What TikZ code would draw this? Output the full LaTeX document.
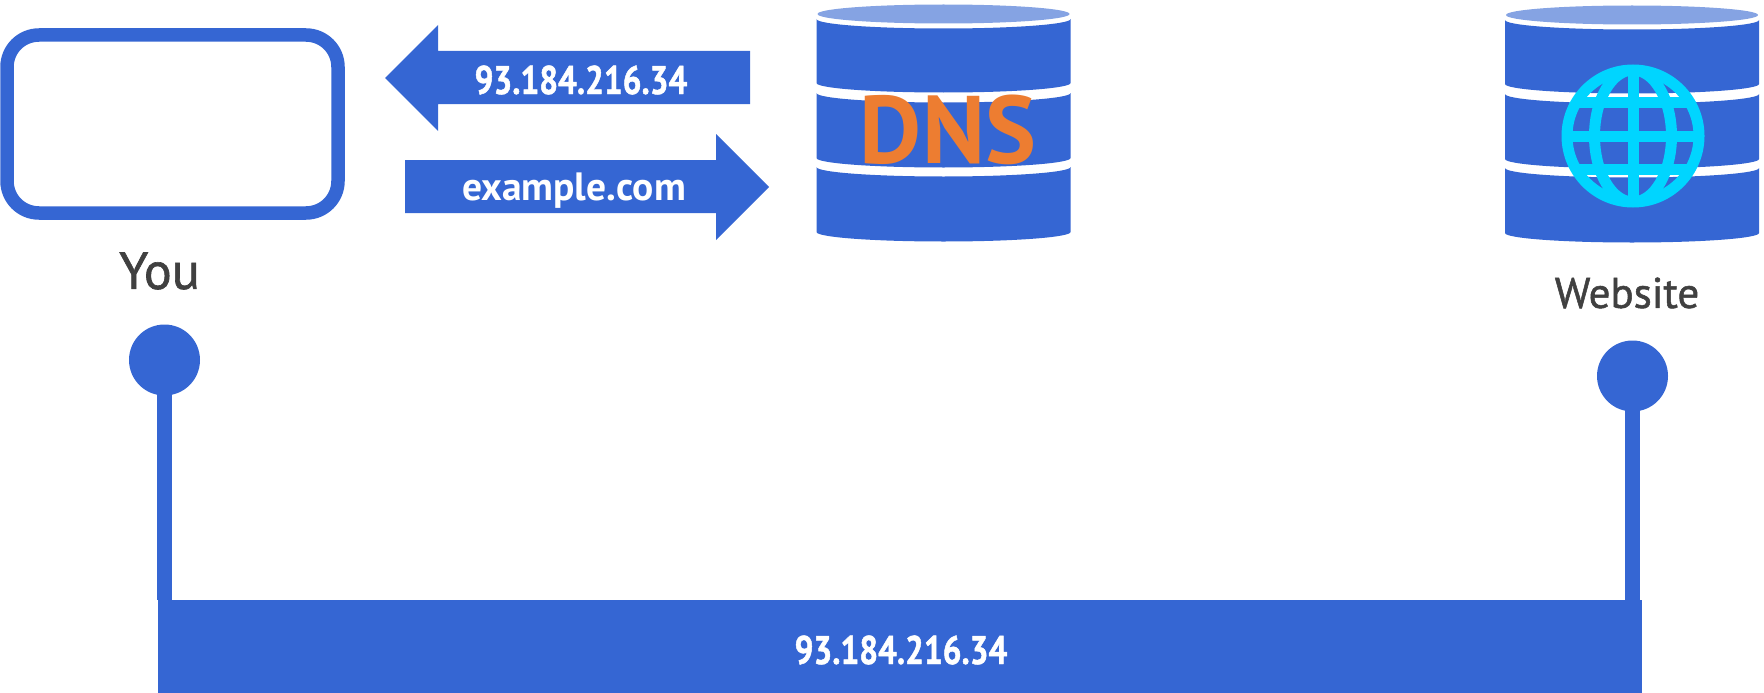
\documentclass[tikz,border=0pt]{standalone}
\usepackage{fontspec}
\setmainfont{PT Sans}
\newfontfamily\ipfont[FakeStretch=.83,FakeBold=1.2]{PT Sans}
\usetikzlibrary{positioning}
\definecolor{dbblue}{HTML}{3566D3}
\definecolor{dblight}{HTML}{85A3E3}
\definecolor{dnsorange}{HTML}{ED7D31}
\definecolor{globecyan}{HTML}{00D5FF}
\definecolor{labelgrey}{HTML}{404040}
\newcommand{\DBSTACK}[2]{%
  \begin{scope}[shift={(#1,#2)}]
    \fill[dblight] (127,14) ellipse[x radius=126,y radius=9.5];
    \foreach \ttop/\tbot in {19/83,93/158,167/232}
      \fill[dbblue] (0,\ttop) arc[start angle=180,end angle=0,x radius=127,y radius=9.5]
        -- (254,\tbot) arc[start angle=0,end angle=180,x radius=127,y radius=9.5] -- cycle;
  \end{scope}}

\begin{document}
\begin{tikzpicture}[x=1pt,y=-1pt,
  screen/.style={draw=dbblue,line width=13.5pt,rounded corners=32pt,inner sep=0pt,
                 minimum width=331pt,minimum height=178pt},
  flow/.style={fill=dbblue},
  addr/.style={text=white,font=\fontsize{40}{40}\selectfont\ipfont\bfseries,inner sep=0pt},
  caption/.style={text=labelgrey,inner sep=0pt},
  pin/.style={circle,fill=dbblue,inner sep=0pt,minimum size=71pt},
  stem/.style={draw=dbblue,line width=15pt,xshift=2pt}]
  \useasboundingbox (0,0) rectangle (1764,693);
  \node[screen] (screen) at (172.5,124) {};
  \node[caption,font=\fontsize{52}{52}\selectfont\addfontfeature{FakeBold=1.2}] (you) at (159.5,271) {You};

  \fill[flow] (385,78) -- (438,25) -- (438,51) -- (750,51) -- (750,104) -- (438,104) -- (438,131) -- cycle;
  \node[addr] (reply) at (581,80) {93.184.216.34};
  \fill[flow] (769,187) -- (716,134) -- (716,160) -- (405,160) -- (405,213) -- (716,213) -- (716,240) -- cycle;
  \node[text=white,inner sep=0pt,font=\fontsize{39.5}{40}\selectfont\bfseries] (query) at (574,191) {example.com};

  \DBSTACK{816.5}{0}
  \DBSTACK{1505}{1}
  \node[text=dnsorange,inner sep=0pt,font=\fontsize{96}{96}\selectfont\bfseries] (dns) at (948,130) {DNS};

  \node[circle,draw=globecyan,line width=11pt,inner sep=0pt,minimum size=132pt] (globe) at (1633,136) {};
  \begin{scope}[shift={(globe.center)}]
    \clip (0,0) circle[radius=68];
    \draw[globecyan,line width=11pt] (0,0) ellipse[x radius=38.5,y radius=66];
    \draw[globecyan,line width=11pt] (0,-70) -- (0,70);
    \foreach \yy in {-33.5,0,33.5}
      \draw[globecyan,line width=11pt] (-70,\yy) -- (70,\yy);
  \end{scope}
  \node[caption,font=\fontsize{43}{43}\selectfont\addfontfeature{FakeBold=1.2}] (website) at (1627,293) {Website};

  \node[pin] (youpin) at (164.5,360) {};
  \node[pin] (sitepin) at (1632.5,376) {};
  \node[fill=dbblue,inner sep=0pt,minimum width=1484pt,minimum height=93pt] (route) at (900,646.5) {};
  \node[addr] (routeip) at (901,650) {93.184.216.34};
  \draw[stem] (youpin.center) -- (youpin.center |- route.north);
  \draw[stem] (sitepin.center) -- (sitepin.center |- route.north);
\end{tikzpicture}
\end{document}
